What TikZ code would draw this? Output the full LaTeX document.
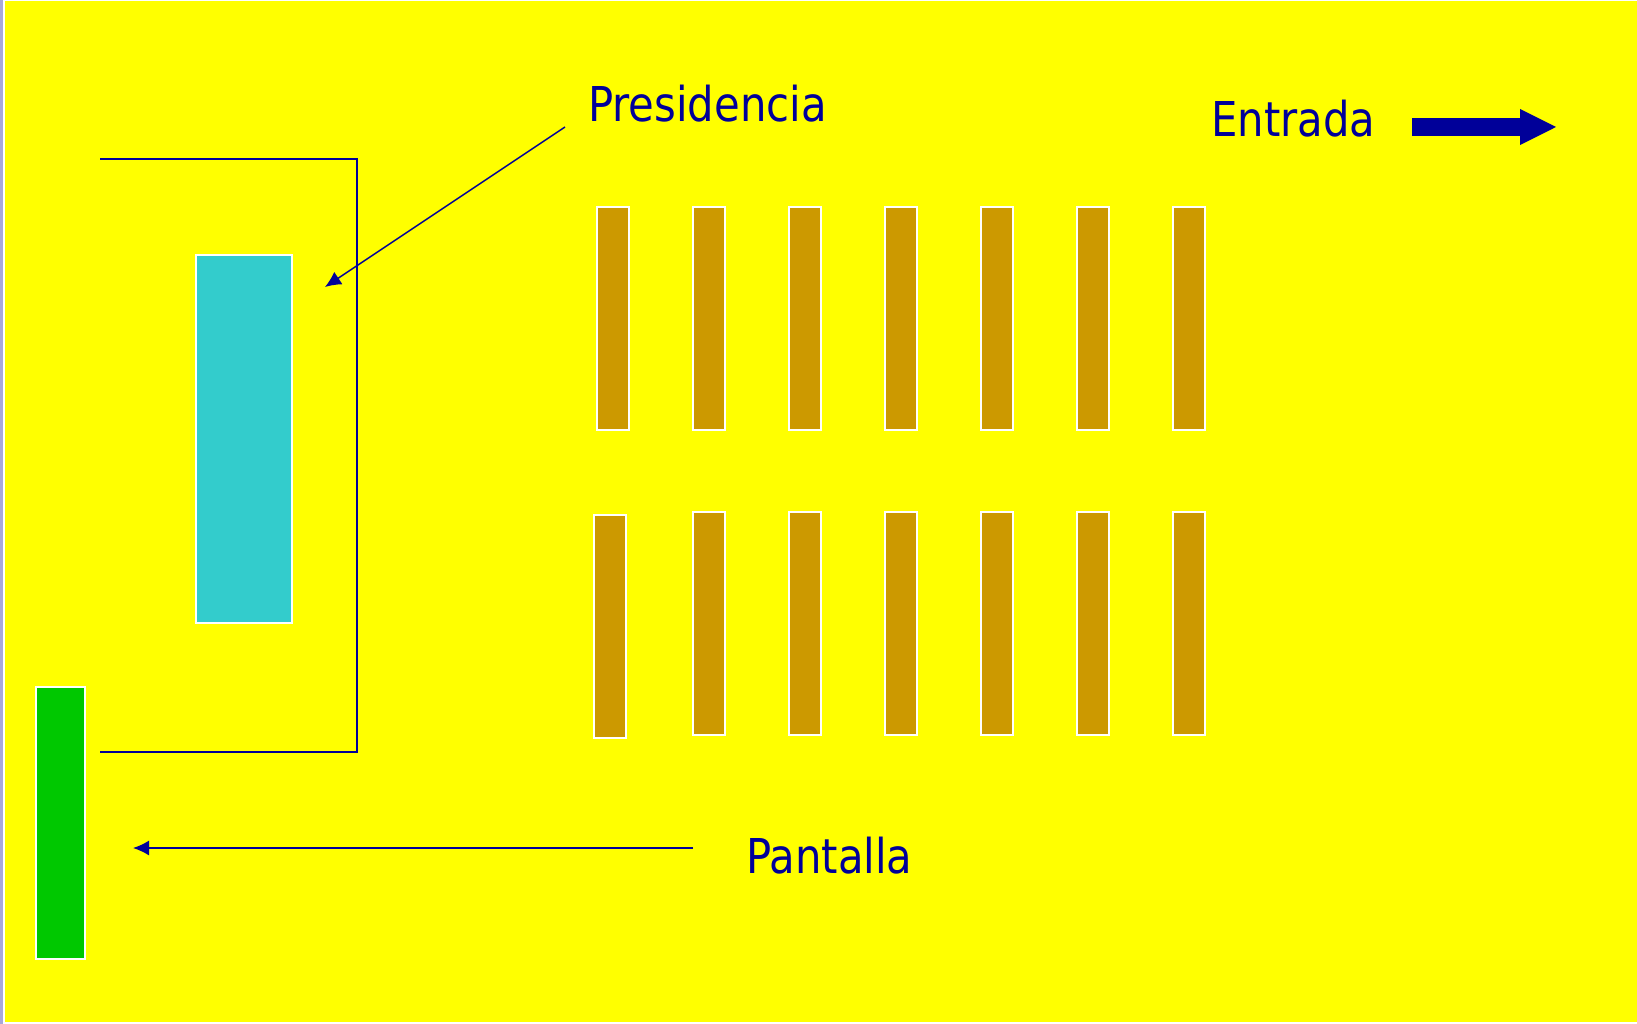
\documentclass[tikz,border=0pt]{standalone}
\usepackage{fontspec}
\setmainfont{DejaVu Sans}[FakeStretch=0.87]
\usetikzlibrary{arrows.meta}
\definecolor{fondo}{HTML}{FFFF00}
\definecolor{marino}{HTML}{000099}
\definecolor{banco}{HTML}{CC9900}
\definecolor{mesa}{HTML}{33CCCC}
\definecolor{verde}{HTML}{00C800}
\definecolor{borde}{HTML}{A8A8D8}
\tikzset{
  etiqueta/.style={anchor=base west, inner sep=0pt, text=marino, font=\fontsize{48}{50}\selectfont},
  mueble/.style={draw=white, line width=1.5pt},
  flecha/.style={draw=marino, line width=1.5pt, -{Latex[length=16pt,width=15pt]}}
}
\begin{document}
\begin{tikzpicture}[x=1pt,y=-1pt]
\useasboundingbox (0,0) rectangle (1637,1024);

\fill [white] (0,0) rectangle (1637,1024);
\fill [borde] (0,0) rectangle (3,1024);
\fill [fondo] (5,1) rectangle (1637,1022);

% presidencia y pantalla
\draw [marino, line width=2pt] (100,159) -- (357,159) -- (357,752) -- (100,752);
\filldraw [mueble, fill=mesa] (196,255) rectangle (292,623);
\filldraw [mueble, fill=verde] (36,687) rectangle (85,959);

% bancos
\foreach \i in {1,...,6} {
  \filldraw [mueble, fill=banco] (597+96*\i,207) rectangle (629+96*\i,430);
  \filldraw [mueble, fill=banco] (597+96*\i,512) rectangle (629+96*\i,735);
}
\filldraw [mueble, fill=banco] (597,207) rectangle (629,430);
\filldraw [mueble, fill=banco] (594,515) rectangle (626,738);

\node (pres) at (588,122) [etiqueta] {Presidencia};
\node (entr) at (1211,137) [etiqueta] {Entrada};
\node (pant) at (746,873) [etiqueta] {Pantalla};

\coordinate (pres1) at (565,127);
\coordinate (pres2) at (325,287);
\coordinate (pant1) at (693,848);
\coordinate (pant2) at (133,848);
\coordinate (entr1) at (1412,127);
\coordinate (entr2) at (1557,127);

\draw [flecha] (pres1) -- (pres2);
\draw [flecha] (pant1) -- (pant2);
\draw [marino, line width=18pt, -{Triangle[length=37pt,width=33pt]}] (entr1) -- (entr2);
\end{tikzpicture}
\end{document}
